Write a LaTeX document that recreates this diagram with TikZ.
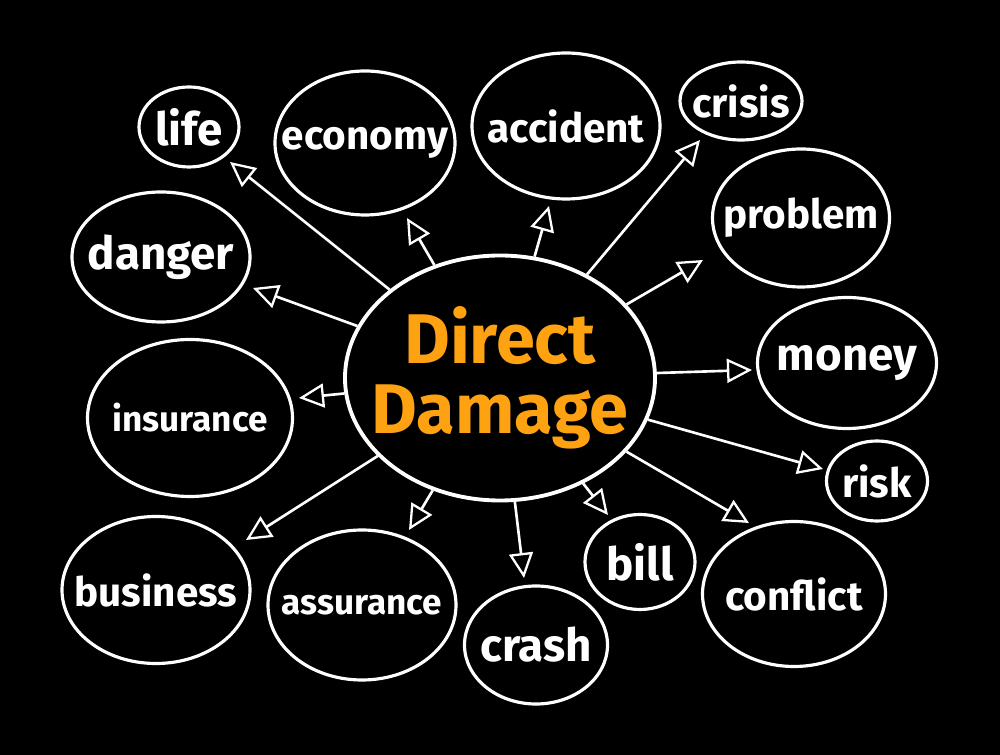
\documentclass[tikz,border=0pt]{standalone}
\usepackage{fontspec}
\setmainfont{Fira Sans}
\usepackage{tikz}
\usetikzlibrary{shapes.geometric,arrows.meta}
\definecolor{dmgorange}{RGB}{255,162,18}
\newcommand{\word}[1]{\makebox[0pt]{#1}}

\begin{document}
\begin{tikzpicture}[x=0.2mm,y=-0.2mm,
    bubble/.style={ellipse,draw=white,line width=1.8pt,text=white,inner sep=0pt,
                   font=\bfseries\fontsize{23}{26}\selectfont},
    small/.style={font=\bfseries\fontsize{20}{24}\selectfont},
    big/.style={font=\bfseries\fontsize{26}{30}\selectfont},
    link/.style={white,line width=1.5pt,
                 -{Triangle[open,length=0.5cm,width=0.48cm,line width=1.3pt]}}]
    \fill[black] (0,0) rectangle (1000,755);
    \useasboundingbox (0,0) rectangle (1000,755);

    \node (dmg)    [bubble, line width=2.2pt, minimum width=6.2cm,  minimum height=4.9cm, text=dmgorange, align=center,
                    font=\bfseries\fontsize{40}{40}\selectfont] at (500,378) {\word{Direct}\\\word{Damage}};
    \node (life)   [bubble, big, minimum width=2.0cm,  minimum height=1.6cm]  at (189,127) {\word{life}};
    \node (eco)    [bubble, minimum width=3.6cm,  minimum height=2.88cm]      at (365,143) {\word{economy}};
    \node (acc)    [bubble, minimum width=3.76cm, minimum height=2.92cm]      at (566,126) {\word{accident}};
    \node (crisis) [bubble, minimum width=2.44cm, minimum height=1.56cm]      at (741,101) {\word{crisis}};
    \node (prob)   [bubble, minimum width=3.54cm, minimum height=2.76cm]      at (801,218) {\word{problem}};
    \node (danger) [bubble, big, minimum width=3.56cm, minimum height=2.6cm]  at (161,257) {\word{danger}};
    \node (money)  [bubble, big, minimum width=3.58cm, minimum height=2.62cm] at (847,363) {\word{money}};
    \node (ins)    [bubble, small, minimum width=4.1cm, minimum height=3.14cm] at (190,418) {\word{insurance}};
    \node (risk)   [bubble, minimum width=2.02cm, minimum height=1.6cm]       at (877,481) {\word{risk}};
    \node (bus)    [bubble, minimum width=3.76cm, minimum height=2.94cm]      at (156,590) {\word{business}};
    \node (assur)  [bubble, small, minimum width=3.76cm, minimum height=3.0cm] at (362,605) {\word{assurance}};
    \node (crash)  [bubble, big, minimum width=2.86cm, minimum height=2.36cm] at (536,645) {\word{crash}};
    \node (bill)   [bubble, big, minimum width=2.2cm,  minimum height=1.9cm]  at (640,562) {\word{bill}};
    \node (confl)  [bubble, minimum width=3.66cm, minimum height=2.9cm]       at (794,594) {\word{conflict}};

    % arrow tips
    \coordinate (life-a)   at (230,162);
    \coordinate (danger-a) at (253,288);
    \coordinate (ins-a)    at (299,398);
    \coordinate (bus-a)    at (246,540);
    \coordinate (assur-a)  at (409,530);
    \coordinate (crash-a)  at (524,578);
    \coordinate (bill-a)   at (608,515);
    \coordinate (confl-a)  at (749,523);
    \coordinate (risk-a)   at (823,469);
    \coordinate (money-a)  at (752,370);
    \coordinate (prob-a)   at (703,260);
    \coordinate (crisis-a) at (700,140);
    \coordinate (acc-a)    at (549,206);
    \coordinate (eco-a)    at (407,218);

    \foreach \t in {life,danger,ins,bus,assur,crash,bill,confl,risk,money,prob,crisis,acc,eco}
        \draw[link] (dmg) -- (\t-a);
\end{tikzpicture}
\end{document}
